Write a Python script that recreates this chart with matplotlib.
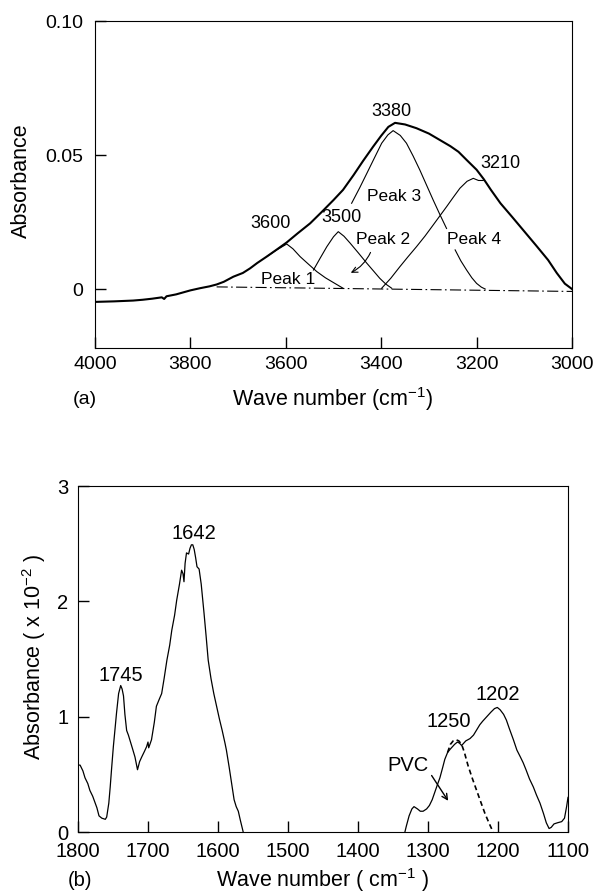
import matplotlib
matplotlib.use("Agg")
import matplotlib.pyplot as plt

plt.rcParams['font.family'] = ['Liberation Sans', 'DejaVu Sans']
plt.rcParams['mathtext.fontset'] = 'custom'
plt.rcParams['mathtext.rm'] = 'Liberation Sans'
plt.rcParams['mathtext.default'] = 'regular'

# ---- panel (a): OH stretching region ----
total_wn = [4000, 3960, 3920, 3900, 3880, 3860, 3855, 3850, 3830, 3800, 3780, 3760,
            3745, 3730, 3710, 3690, 3675, 3660, 3640, 3620, 3598, 3575, 3549, 3525,
            3500, 3480, 3458, 3438, 3417, 3400, 3385, 3371, 3350, 3326, 3300, 3277,
            3255, 3238, 3220, 3200, 3185, 3170, 3150, 3125, 3100, 3075, 3050, 3032,
            3015, 3000]
total_abs = [-0.0048, -0.0046, -0.0043, -0.0040, -0.0036, -0.0031, -0.0037, -0.0027,
             -0.0020, -0.0005, 0.0003, 0.0010, 0.0017, 0.0027, 0.0046, 0.0060, 0.0077,
             0.0097, 0.0121, 0.0146, 0.0174, 0.0208, 0.0245, 0.0287, 0.0332, 0.0370,
             0.0425, 0.0478, 0.0531, 0.0572, 0.0605, 0.0620, 0.0614, 0.0600, 0.0580,
             0.0556, 0.0533, 0.0512, 0.0480, 0.0445, 0.0410, 0.0370, 0.0320, 0.0268,
             0.0215, 0.0162, 0.0108, 0.0060, 0.0020, 0.0000]

peak1_wn = [3640, 3620, 3598, 3585, 3570, 3552, 3535, 3517, 3500, 3480]
peak1_abs = [0.0121, 0.0145, 0.0168, 0.0150, 0.0121, 0.0092, 0.0065, 0.0042, 0.0024, 0.0003]

peak2_wn = [3542, 3528, 3514, 3500, 3490, 3478, 3465, 3448, 3430, 3415, 3403, 3390, 3378]
peak2_abs = [0.0071, 0.0115, 0.0158, 0.0195, 0.0214, 0.0197, 0.0171, 0.0135, 0.0096,
             0.0065, 0.0040, 0.0018, 0.0003]

peak3a_wn = [3462, 3445, 3430, 3414, 3399, 3386, 3375, 3360, 3347, 3333, 3319, 3305,
             3291, 3277, 3263]
peak3a_abs = [0.0320, 0.0378, 0.0432, 0.0490, 0.0544, 0.0575, 0.0591, 0.0573, 0.0544,
              0.0496, 0.0444, 0.0388, 0.0332, 0.0278, 0.0226]
peak3b_wn = [3245, 3233, 3221, 3210, 3200, 3190, 3182]
peak3b_abs = [0.0146, 0.0105, 0.0071, 0.0042, 0.0021, 0.0007, 0.0000]

peak4_wn = [3399, 3380, 3361, 3344, 3326, 3308, 3291, 3277, 3263, 3249, 3235, 3220,
            3207, 3196, 3186]
peak4_abs = [0.0003, 0.0040, 0.0083, 0.0120, 0.0158, 0.0198, 0.0239, 0.0273, 0.0307,
             0.0342, 0.0376, 0.0402, 0.0413, 0.0405, 0.0405]

base_wn = [3745, 3000]
base_abs = [0.0008, -0.0009]

# ---- panel (b): fingerprint region ----
left_wn = [1800, 1797, 1793, 1790, 1786, 1783, 1779, 1776, 1773, 1770, 1766, 1761,
           1759, 1756, 1754, 1752, 1749.5, 1747, 1745, 1742, 1739, 1737, 1735, 1733,
           1730.5, 1728, 1726, 1722, 1718.6, 1715, 1712, 1709, 1705, 1702, 1700, 1699,
           1695, 1691, 1688, 1684, 1680.5, 1677, 1673, 1669, 1666, 1662, 1659, 1655,
           1652, 1650, 1648.6, 1647, 1645, 1642, 1640, 1638, 1636, 1634, 1632, 1630,
           1627, 1624, 1620, 1617, 1614, 1610, 1606, 1602, 1598, 1594, 1590, 1588,
           1584, 1580, 1577, 1574, 1571, 1568, 1564]
left_abs = [0.58, 0.58, 0.53, 0.47, 0.42, 0.36, 0.31, 0.26, 0.21, 0.14, 0.12, 0.11,
            0.13, 0.25, 0.39, 0.55, 0.74, 0.90, 1.03, 1.20, 1.27, 1.24, 1.18, 1.02,
            0.88, 0.84, 0.80, 0.72, 0.65, 0.54, 0.61, 0.65, 0.70, 0.74, 0.78, 0.73,
            0.80, 0.95, 1.09, 1.15, 1.20, 1.33, 1.49, 1.62, 1.75, 1.88, 2.01, 2.15,
            2.27, 2.24, 2.17, 2.33, 2.42, 2.41, 2.46, 2.49, 2.49, 2.45, 2.38, 2.30,
            2.28, 2.15, 1.90, 1.70, 1.49, 1.33, 1.20, 1.09, 0.98, 0.88, 0.77, 0.71,
            0.56, 0.40, 0.28, 0.22, 0.18, 0.10, 0.00]

right_wn = [1333, 1331, 1327, 1323, 1320, 1315, 1311, 1307, 1302, 1298, 1294, 1290,
            1286, 1283, 1279, 1276, 1272, 1268, 1265, 1262, 1258, 1255, 1252, 1249,
            1246, 1240, 1235, 1230, 1226, 1222, 1216, 1210, 1205, 1201, 1197, 1192,
            1188, 1184, 1178, 1173, 1168, 1164, 1160, 1155, 1149.5, 1145, 1140, 1135,
            1131, 1127, 1124, 1120, 1115, 1109, 1105, 1102, 1100]
right_abs = [0.00, 0.05, 0.14, 0.20, 0.22, 0.20, 0.18, 0.18, 0.20, 0.23, 0.28, 0.35,
             0.42, 0.47, 0.56, 0.63, 0.69, 0.72, 0.74, 0.76, 0.78, 0.77, 0.75, 0.77,
             0.79, 0.81, 0.84, 0.89, 0.93, 0.96, 1.00, 1.04, 1.07, 1.08, 1.06, 1.02,
             0.97, 0.90, 0.80, 0.71, 0.65, 0.60, 0.54, 0.46, 0.39, 0.32, 0.25, 0.16,
             0.08, 0.03, 0.04, 0.07, 0.08, 0.09, 0.12, 0.22, 0.30]

pvc_wn = [1272, 1268, 1264, 1260, 1256, 1252, 1248, 1243, 1237, 1230.5, 1224, 1218.6,
          1213, 1207]
pvc_abs = [0.69, 0.76, 0.79, 0.80, 0.79, 0.76, 0.69, 0.58, 0.47, 0.36, 0.25, 0.16,
           0.08, 0.00]

W, H = 598, 896
fig = plt.figure(figsize=(W / 100, H / 100), dpi=100)


def rect(l, t, r, b):
    return [l / W, 1 - b / H, (r - l) / W, (b - t) / H]


def px(x, y):
    return x / W, 1 - y / H


# (a)
ax = fig.add_axes(rect(95, 21, 572, 348))
ax.plot(total_wn, total_abs, color='black', lw=1.5)
ax.plot(peak1_wn, peak1_abs, color='black', lw=0.8)
ax.plot(peak2_wn, peak2_abs, color='black', lw=0.8)
ax.plot(peak3a_wn, peak3a_abs, color='black', lw=0.8)
ax.plot(peak3b_wn, peak3b_abs, color='black', lw=0.8)
ax.plot(peak4_wn, peak4_abs, color='black', lw=0.8)
ax.plot(base_wn, base_abs, color='black', lw=0.8, dashes=[10, 3, 1.5, 3])
ax.set_xlim(4000, 3000)
ax.set_ylim(-0.022, 0.10)
ax.set_xticks([4000, 3800, 3600, 3400, 3200, 3000])
ax.set_yticks([0, 0.05, 0.10])
ax.set_yticklabels(['0', '0.05', '0.10'])
ax.tick_params(direction='in', length=8, width=1, labelsize=14)
ax.tick_params(axis='x', pad=6)
ax.tick_params(axis='y', pad=8.5)

for txt, x, y in [('3600', 3633, 0.0243), ('3500', 3483, 0.0267),
                  ('3380', 3378, 0.0662), ('3210', 3150, 0.0470)]:
    ax.text(x, y, txt, fontsize=13, ha='center', va='center')
for txt, x, y in [('Peak 1', 3595, 0.0034), ('Peak 2', 3396, 0.0183),
                  ('Peak 3', 3373, 0.0347), ('Peak 4', 3205, 0.0183)]:
    ax.text(x, y, txt, fontsize=12.5, ha='center', va='center')
ax.annotate('', xy=(3469, 0.0056), xytext=(3420, 0.0146),
            arrowprops=dict(arrowstyle='->', lw=0.8, color='black',
                            connectionstyle='arc3,rad=-0.2'))

fig.text(*px(21, 181), 'Absorbance', rotation=90, fontsize=15.5, ha='center', va='center')
fig.text(*px(333, 399), 'Wave number (cm$^{-1}$)', fontsize=15.5, ha='center', va='center')
fig.text(*px(85, 399), '(a)', fontsize=14, ha='center', va='center')

# (b)
bx = fig.add_axes(rect(78, 486, 568, 832))
bx.plot(left_wn, left_abs, color='black', lw=0.9)
bx.plot(right_wn, right_abs, color='black', lw=0.9)
bx.plot(pvc_wn, pvc_abs, color='black', lw=1.2, dashes=[3, 2])
bx.set_xlim(1800, 1100)
bx.set_ylim(0, 3)
bx.set_xticks([1800, 1700, 1600, 1500, 1400, 1300, 1200, 1100])
bx.set_yticks([0, 1, 2, 3])
bx.tick_params(direction='in', length=8, width=1, labelsize=14.5)
bx.tick_params(axis='x', pad=7.5)
bx.tick_params(axis='y', pad=7)

for txt, x, y in [('1745', 1739, 1.36), ('1642', 1635, 2.59),
                  ('1250', 1271, 0.96), ('1202', 1200, 1.19), ('PVC', 1328, 0.58)]:
    bx.text(x, y, txt, fontsize=14.5, ha='center', va='center')
bx.annotate('', xy=(1269, 0.25), xytext=(1297, 0.51),
            arrowprops=dict(arrowstyle='->', lw=1.0, color='black'))

fig.text(*px(34, 657), 'Absorbance ( x 10$^{-2}$ )', rotation=90, fontsize=15.5,
         ha='center', va='center')
fig.text(*px(323, 880), 'Wave number ( cm$^{-1}$ )', fontsize=15.5, ha='center', va='center')
fig.text(*px(80, 880), '(b)', fontsize=14.5, ha='center', va='center')

fig.savefig('out.png', dpi=100)
